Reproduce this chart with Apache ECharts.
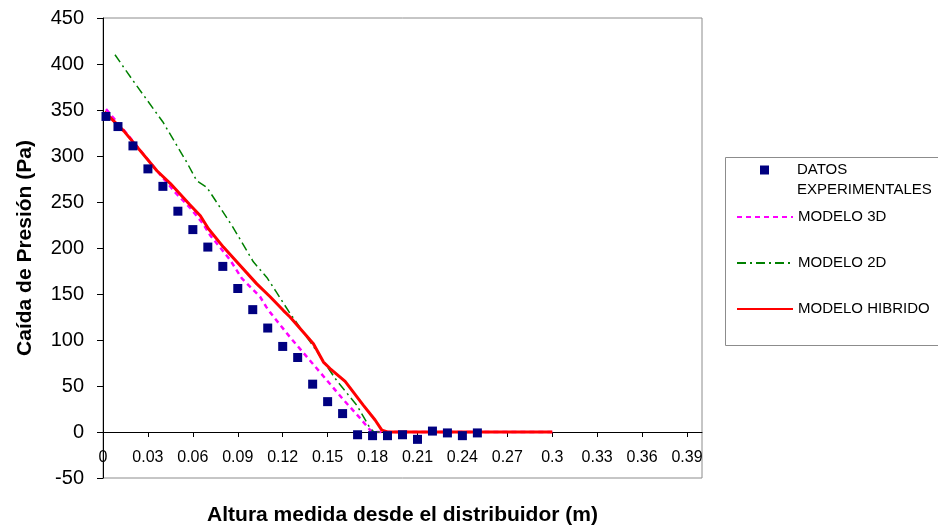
<!DOCTYPE html>
<html>
<head>
<meta charset="utf-8">
<script src="https://cdn.jsdelivr.net/npm/echarts@6/dist/echarts.min.js"></script>
<style>html,body{margin:0;padding:0;background:#fff}#c{width:938px;height:527px}</style>
</head>
<body>
<div id="c"></div>
<script>
// Experimental data
const expX = [0.002, 0.01, 0.02, 0.03, 0.04, 0.05, 0.06, 0.07, 0.08, 0.09, 0.10, 0.11, 0.12, 0.13, 0.14, 0.15, 0.16, 0.17, 0.18, 0.19, 0.20, 0.21, 0.22, 0.23, 0.24, 0.25];
const expY = [343, 332, 311, 286, 267, 240, 220, 201, 180, 156, 133, 113, 93, 81, 52, 33, 20, -3, -4, -4, -3, -8, 1, -1, -4, -1];
// Modelo 3D
const m3dX = [0.002, 0.014, 0.036, 0.049, 0.058, 0.067, 0.0715, 0.0849, 0.0927, 0.1049, 0.109, 0.1116, 0.1249, 0.1428, 0.1606, 0.1717, 0.1784, 0.182, 0.3];
const m3dY = [351, 328, 284, 259, 244, 226, 214, 187, 167, 147, 136, 130, 103, 69, 35, 15, 2, 0, 0];
// Modelo 2D
const m2dX = [0.008, 0.02, 0.04, 0.056, 0.0626, 0.0693, 0.0782, 0.087, 0.1004, 0.1094, 0.1158, 0.1205, 0.1249, 0.1405, 0.156, 0.1695, 0.1784, 0.181, 0.3];
const m2dY = [410, 382, 337, 293, 273, 266, 244, 222, 185, 168, 152, 140, 129, 93, 56, 29, 4, 0, 0];
// Modelo hibrido
const mhX = [0.001, 0.014, 0.036, 0.045, 0.058, 0.065, 0.0704, 0.0804, 0.0893, 0.1027, 0.1116, 0.1205, 0.1249, 0.1405, 0.1472, 0.1516, 0.1617, 0.1739, 0.1817, 0.1862, 0.19, 0.3];
const mhY = [348, 327, 284, 270, 247, 235, 221, 201, 185, 161, 147, 132, 125, 96, 76, 69, 55, 29, 13, 2, 0, 0];

const seriesNames = ['DATOS EXPERIMENTALES', 'MODELO 3D', 'MODELO 2D', 'MODELO HIBRIDO'];
const xTitle = 'Altura medida desde el distribuidor (m)';
const yTitle = 'Caída de Presión (Pa)';

const zip = (xs, ys) => xs.map((x, i) => [x, ys[i]]);
const FONT = 'Liberation Sans, Arial, sans-serif';

const chart = echarts.init(document.getElementById('c'), null, {renderer: 'canvas'});
const legendText = {fontSize: 15, color: '#000', fontFamily: FONT, lineHeight: 18};
const lineLegend = (name, top) => ({
  data: [name], left: 736, top: top, padding: 0, itemWidth: 56, itemHeight: 14,
  itemStyle: {opacity: 0, borderWidth: 0}, textStyle: legendText
});
chart.setOption({
  animation: false,
  textStyle: {fontFamily: FONT, color: '#000'},
  graphic: [{
    type: 'rect', z: 0,
    shape: {x: 725.5, y: 157.5, width: 240, height: 188},
    style: {fill: '#fff', stroke: '#8c8c8c', lineWidth: 1}
  }],
  legend: [
    {data: [seriesNames[0]], left: 760, top: 140, padding: 0, itemWidth: 9, itemHeight: 9,
     itemStyle: {opacity: 1},
     formatter: '\nDATOS\nEXPERIMENTALES',
     textStyle: Object.assign({}, legendText, {lineHeight: 20, padding: [0, 0, 0, 23]})},
    lineLegend(seriesNames[1], 208),
    lineLegend(seriesNames[2], 254),
    lineLegend(seriesNames[3], 300)
  ],
  grid: {left: 103, right: 236, top: 18, bottom: 49, show: true, borderColor: '#8c8c8c', borderWidth: 1,
         backgroundColor: 'transparent', containLabel: false, outerBoundsMode: 'none'},
  xAxis: {
    type: 'value', min: 0, max: 0.4, interval: 0.03,
    name: xTitle, nameLocation: 'middle', nameGap: 27, nameMoveOverlap: false,
    nameTextStyle: {fontSize: 21, fontWeight: 'bold', color: '#000', fontFamily: FONT},
    axisLine: {onZero: true, lineStyle: {color: '#000', width: 1}},
    axisTick: {show: true, length: 5, lineStyle: {color: '#000'}},
    axisLabel: {fontSize: 16, color: '#000', margin: -28, showMaxLabel: false,
                formatter: v => String(+v.toFixed(2))},
    splitLine: {show: false}
  },
  yAxis: {
    type: 'value', min: -50, max: 450, interval: 50,
    name: yTitle, nameLocation: 'middle', nameGap: 67, nameRotate: 90,
    nameTextStyle: {fontSize: 21, fontWeight: 'bold', color: '#000', fontFamily: FONT},
    axisLine: {show: true, onZero: false, lineStyle: {color: '#000', width: 1}},
    axisTick: {show: true, length: 6, lineStyle: {color: '#000'}},
    axisLabel: {fontSize: 20, color: '#000', margin: 19},
    splitLine: {show: false}
  },
  series: [
    {name: seriesNames[0], type: 'scatter', data: zip(expX, expY), symbol: 'rect', symbolSize: 9,
     itemStyle: {color: '#000080', opacity: 1}, z: 6},
    {name: seriesNames[1], type: 'line', data: zip(m3dX, m3dY), symbol: 'none', z: 2,
     itemStyle: {color: '#FF00FF'}, lineStyle: {color: '#FF00FF', width: 2.5, type: [5, 4]}},
    {name: seriesNames[2], type: 'line', data: zip(m2dX, m2dY), symbol: 'none', z: 3,
     itemStyle: {color: '#008000'}, lineStyle: {color: '#008000', width: 1.5, type: [9, 4, 2, 4]}},
    {name: seriesNames[3], type: 'line', data: zip(mhX, mhY), symbol: 'none', z: 4,
     itemStyle: {color: '#FF0000'}, lineStyle: {color: '#FF0000', width: 3}}
  ]
});
</script>
</body>
</html>
